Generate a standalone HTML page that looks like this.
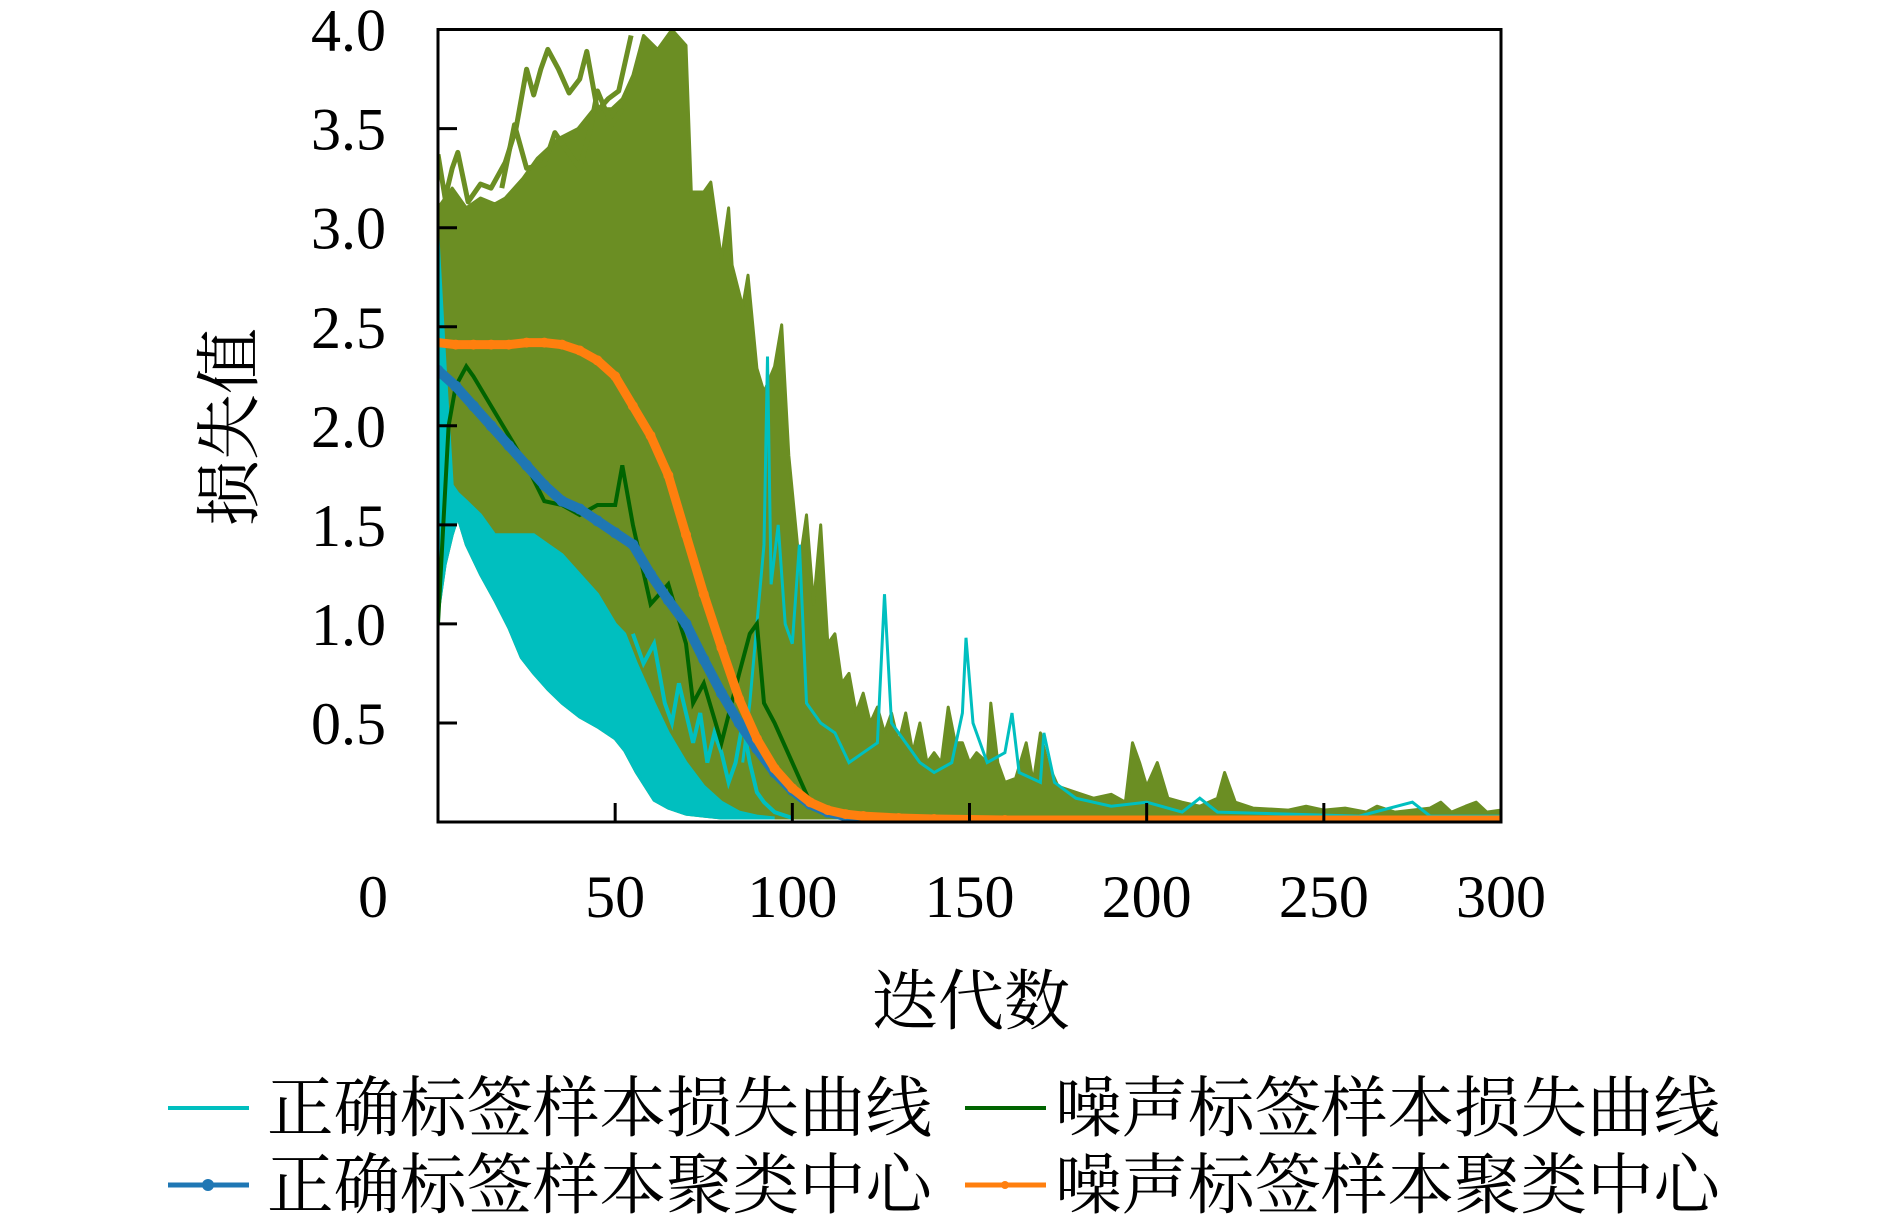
<!DOCTYPE html>
<html><head><meta charset="utf-8">
<style>
html,body{margin:0;padding:0;background:#fff;}
svg{display:block;}
.tick{font-family:"Liberation Serif",serif;font-size:60px;fill:#000;}
.cjk{font-family:"Liberation Serif","Noto Serif CJK SC",serif;fill:#000;}
</style></head>
<body>
<svg id="chart" width="1890" height="1219" viewBox="0 0 1890 1219" xmlns="http://www.w3.org/2000/svg">
<defs><clipPath id="pc"><rect x="438" y="29" width="1063" height="793"/></clipPath></defs>
<g id="plot" clip-path="url(#pc)"></g>
<rect x="438" y="29.5" width="1063" height="792.5" fill="none" stroke="#000" stroke-width="3"/>
<g id="axes"></g>
<text class="cjk" x="971" y="1024" font-size="66" text-anchor="middle">迭代数</text>
<text class="cjk" transform="translate(252,427) rotate(-90)" font-size="66" text-anchor="middle">损失值</text>
<g>
 <g>
  <line x1="168" y1="1108" x2="249" y2="1108" stroke="#00bfbf" stroke-width="4"/>
  <text class="cjk" x="267" y="1131" font-size="66.5">正确标签样本损失曲线</text>
 </g>
 <g>
  <line x1="965" y1="1108" x2="1046" y2="1108" stroke="#006400" stroke-width="4"/>
  <text class="cjk" x="1055" y="1131" font-size="66.5">噪声标签样本损失曲线</text>
 </g>
 <g>
  <line x1="168" y1="1185" x2="249" y2="1185" stroke="#1f77b4" stroke-width="5"/>
  <circle cx="208" cy="1185" r="6" fill="#1f77b4"/>
  <text class="cjk" x="267" y="1208" font-size="66.5">正确标签样本聚类中心</text>
 </g>
 <g>
  <line x1="965" y1="1185" x2="1046" y2="1185" stroke="#ff7f0e" stroke-width="5"/>
  <circle cx="1005" cy="1185" r="4" fill="#ff7f0e"/>
  <text class="cjk" x="1055" y="1208" font-size="66.5">噪声标签样本聚类中心</text>
 </g>
</g>
</svg>
<script>
const yTicks=[0.5,1.0,1.5,2.0,2.5,3.0,3.5,4.0];
const yTickLabels=["0.5","1.0","1.5","2.0","2.5","3.0","3.5","4.0"];
const xTicks=[50,100,150,200,250,300];
const xTickLabels=["50","100","150","200","250","300"];
const noiseEnvX=[0,4,8,12,16,19,24,28,34,39.5,44,49,52,55,58,62,66,70,71.5,75,77,80,82,83,86,87.5,90,92,95,97,99,102,104,106,108,110,112,114,116,118,120,122,124,126,128,130,132,134,136,138,140,142,144,146,148,150,152,155,156,158,160,163,166,168,170,172,175,180,185,190,194,196,198,200,203,206,210,215,220,222,225,230,240,245,250,256,262,265,270,280,283,286,290,293,296,300];
const noiseEnvY=[3.1,3.2,3.1,3.15,3.12,3.15,3.25,3.35,3.45,3.5,3.6,3.6,3.65,3.77,3.97,3.9,4.0,3.92,3.18,3.18,3.23,2.84,3.1,2.81,2.6,2.76,2.29,2.17,2.3,2.51,1.85,1.3,1.55,1.1,1.5,0.9,0.95,0.7,0.75,0.55,0.65,0.5,0.58,0.45,0.55,0.4,0.55,0.35,0.5,0.3,0.35,0.3,0.58,0.4,0.4,0.3,0.35,0.3,0.6,0.3,0.2,0.22,0.4,0.2,0.45,0.3,0.18,0.15,0.12,0.14,0.1,0.4,0.3,0.18,0.3,0.12,0.1,0.08,0.12,0.25,0.1,0.07,0.06,0.08,0.06,0.07,0.05,0.08,0.05,0.07,0.1,0.05,0.08,0.1,0.05,0.06];
const strandAX=[0,2,4,5.6,8.5,12,15,19,22,25,27,29,31,34,37,40,42,45,48,51,54.5];
const strandAY=[3.37,3.15,3.3,3.38,3.13,3.22,3.2,3.33,3.5,3.8,3.67,3.8,3.9,3.8,3.68,3.75,3.89,3.59,3.65,3.69,3.97];
const strandBX=[18,21.6,25,30,33,36,40,43,45,49,52];
const strandBY=[3.2,3.52,3.3,3.32,3.48,3.4,3.3,3.5,3.69,3.52,3.6];
const cleanX=[0,2,4,5.6,8,12,16,20,23.5,27,31,35,40,45,50,52.7,56,61,65,70,75,80,85,90,95];
const cleanUpper=[2.95,2.3,1.7,1.66,1.62,1.55,1.45,1.45,1.45,1.45,1.4,1.35,1.25,1.15,1.0,0.95,0.8,0.6,0.45,0.3,0.18,0.1,0.05,0.03,0.02];
const cleanLower=[1.05,1.3,1.45,1.54,1.4,1.25,1.12,0.98,0.83,0.75,0.67,0.6,0.53,0.48,0.42,0.36,0.25,0.11,0.07,0.04,0.03,0.02,0.02,0.02,0.02];
const cleanLineX=[55,58,61,64,66,68,70,72,74,76,78,80,82,84,86,88,90,92,95,100];
const cleanLineY=[0.95,0.8,0.9,0.6,0.5,0.7,0.55,0.4,0.55,0.3,0.45,0.35,0.2,0.3,0.5,0.3,0.15,0.1,0.05,0.02];
const cleanSpikeX=[86,88,90,92,93,94,96,98,100,102,104,108,112,116,120,124,126,128,132,136,140,145,148,149,151,155,160,162,164,170,171,174,180,190,200,210,215,220,240,260,275,280,300];
const cleanSpikeY=[0.3,0.6,1.0,1.4,2.35,1.2,1.5,1.0,0.9,1.4,0.6,0.5,0.45,0.3,0.35,0.4,1.15,0.5,0.4,0.3,0.25,0.3,0.55,0.93,0.5,0.3,0.35,0.55,0.25,0.2,0.45,0.2,0.12,0.08,0.1,0.05,0.12,0.05,0.04,0.03,0.1,0.03,0.03];
const darkX=[0,3,5,8,10,15,20,25,30,35,40,45,50,52,55,60,65,70,72,75,80,85,88,90,92,95,100,105,110,115,120,300];
const darkY=[1.0,2.0,2.2,2.3,2.25,2.1,1.95,1.8,1.62,1.6,1.55,1.6,1.6,1.8,1.5,1.1,1.2,0.9,0.6,0.7,0.4,0.75,0.95,1.0,0.6,0.5,0.3,0.1,0.04,0.02,0.01,0.01];
const blueX=[0,5,10,15,20,25,30,35,40,45,50,55,60,65,70,75,80,85,90,95,100,105,110,115,120,130,140,160,200,250,300];
const blueY=[2.28,2.2,2.1,2.0,1.9,1.8,1.7,1.62,1.58,1.52,1.46,1.4,1.25,1.12,1.0,0.82,0.65,0.5,0.37,0.25,0.16,0.09,0.05,0.03,0.015,0.005,0.0,0.0,0.0,0.0,0.0];
const orangeX=[0,5,10,15,20,25,30,35,40,45,50,55,60,65,70,75,80,85,90,95,100,105,110,115,120,130,140,160,200,250,300];
const orangeY=[2.42,2.41,2.41,2.41,2.41,2.42,2.42,2.41,2.38,2.33,2.25,2.1,1.95,1.75,1.45,1.15,0.88,0.62,0.42,0.27,0.17,0.1,0.06,0.04,0.03,0.02,0.015,0.01,0.01,0.01,0.01];

const X=v=>438+v*(1063/300);
const Y=v=>822-v*198.1;
const NS="http://www.w3.org/2000/svg";
const plot=document.getElementById('plot');
const axes=document.getElementById('axes');
function mk(tag,attrs,parent){const e=document.createElementNS(NS,tag);for(const k in attrs)e.setAttribute(k,attrs[k]);parent.appendChild(e);return e;}
function pts(xs,ys){return xs.map((x,i)=>X(x).toFixed(1)+','+Y(ys[i]).toFixed(1)).join(' ');}

const revX=cleanX.slice().reverse(), revL=cleanLower.slice().reverse();
let d=pts(noiseEnvX,noiseEnvY)+' '+X(300)+','+Y(0.02)+' '+pts(revX,revL);
let olive=mk('polygon',{points:d,fill:'#6b8e23',stroke:'#6b8e23','stroke-width':3,'stroke-linejoin':'round'},plot);


let sa=mk('polyline',{points:pts(strandAX,strandAY),fill:'none',stroke:'#6b8e23','stroke-width':5,'stroke-linejoin':'round'},plot);


let sb=mk('polyline',{points:pts(strandBX,strandBY),fill:'none',stroke:'#6b8e23','stroke-width':5,'stroke-linejoin':'round'},plot);



let cb=pts(cleanX,cleanUpper)+' '+pts(revX,revL);
let cyan=mk('polygon',{points:cb,fill:'#00bfbf',stroke:'#00bfbf','stroke-width':3},plot);


let cl=mk('polyline',{points:pts(cleanLineX,cleanLineY),fill:'none',stroke:'#00bfbf','stroke-width':4},plot);


let cs=mk('polyline',{points:pts(cleanSpikeX,cleanSpikeY),fill:'none',stroke:'#00bfbf','stroke-width':3},plot);



let dg=mk('polyline',{points:pts(darkX,darkY),fill:'none',stroke:'#006400','stroke-width':4},plot);



function center(xs,ys,col,w,r,name){
  const g=mk('g',{},plot);
  
  
  mk('polyline',{points:pts(xs,ys),fill:'none',stroke:col,'stroke-width':w,'stroke-linejoin':'round'},g);
  xs.forEach((x,i)=>{const c=mk('circle',{cx:X(x),cy:Y(ys[i]),r:r,fill:col},g);
    
    });
}
center(blueX,blueY,'#1f77b4',10,5.5,'correct-center-line');
center(orangeX,orangeY,'#ff7f0e',9,5,'noise-center-line');

yTicks.forEach((v,i)=>{
  if(v<4){const t=mk('line',{x1:438,x2:457,y1:Y(v),y2:Y(v),stroke:'#000','stroke-width':3},axes);
  
  }
  const l=mk('text',{x:386,y:Y(v)+21,'text-anchor':'end',class:'tick'},axes);
  l.textContent=yTickLabels[i];
  
  
});
xTicks.forEach((v,i)=>{
  if(v<300){const t=mk('line',{x1:X(v),x2:X(v),y1:822,y2:803,stroke:'#000','stroke-width':3},axes);
  
  }
  const l=mk('text',{x:X(v),y:917,'text-anchor':'middle',class:'tick'},axes);
  l.textContent=xTickLabels[i];
  
  
});
const z=mk('text',{x:373,y:917,'text-anchor':'middle',class:'tick'},axes);
z.textContent='0';


</script>
</body></html>
